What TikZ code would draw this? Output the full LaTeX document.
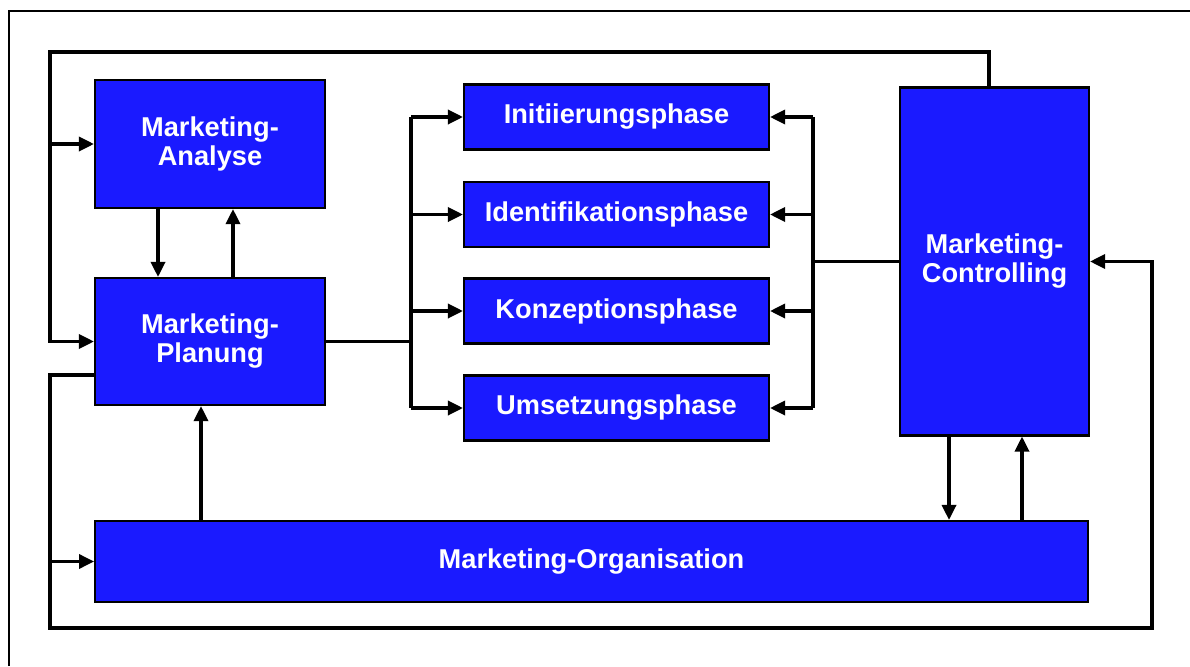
\documentclass[tikz,border=0pt]{standalone}
\usepackage{fontspec}
\setmainfont{Liberation Sans}
\usetikzlibrary{arrows.meta}
\definecolor{mblue}{HTML}{1A1AFF}
\begin{document}
\begin{tikzpicture}[x=0.02cm, y=-0.02cm,
    box/.style={draw=black, fill=mblue, line width=1.2pt, text=white, inner sep=0pt,
      align=center, font=\bfseries\fontsize{15.5}{16.5}\selectfont},
    phase/.style={box, minimum width=6.1cm, minimum height=1.3cm},
    line/.style={line width=1.9pt},
    arr/.style={line, -{Triangle[length=0.3cm, width=0.28cm]}}]
      \useasboundingbox (0,0) rectangle (1190,666);
      \draw[line width=1.2pt] (9,666) -- (9,11) -- (1190,11);
      \node[box, minimum width=4.6cm, minimum height=2.56cm] (ana) at (210,144) {Marketing-\\Analyse};
      \node[box, minimum width=4.6cm, minimum height=2.54cm] (plan) at (210,341.5) {Marketing-\\Planung};
      \node[box, minimum width=19.86cm, minimum height=1.62cm] (org) at (591.5,561.5) {Marketing-Organisation};
      \node[phase] (ini) at (616.5,117) {Initiierungsphase};
      \node[phase] (ident) at (616.5,214.5) {Identifikationsphase};
      \node[phase] (konz) at (616.5,311) {Konzeptionsphase};
      \node[phase] (ums) at (616.5,408) {Umsetzungsphase};
      \node[box, minimum width=3.78cm, minimum height=6.96cm] (ctrl) at (994.5,261.5) {Marketing-\\Controlling};
      \coordinate (topL) at (50,52);
      \coordinate (topR) at (989,52);
      \coordinate (midL) at (50,375);
      \coordinate (botL) at (50,628);
      \coordinate (botR) at (1152,628);
      \coordinate (busL) at (411,341);
      \coordinate (busR) at (813,266);
      % loops round the outside
      \draw[arr] (ctrl.north -| topR) -- (topR) -- (topL) |- (plan.west);
      \draw[arr] (topL |- ana.west) -- (ana.west);
      \draw[arr] (plan.west |- midL) -- (midL) -- (botL) -- (botR) |- (ctrl.east);
      \draw[arr] (botL |- org.west) -- (org.west);
      % analyse, planung, organisation
      \coordinate (c1) at ([xshift=-1.04cm]ana.south);
      \coordinate (c2) at ([xshift=0.46cm]ana.south);
      \coordinate (c3) at ([xshift=-0.18cm]plan.south);
      \draw[arr] (c1) -- (c1 |- plan.north);
      \draw[arr] (c2 |- plan.north) -- (c2);
      \draw[arr] (c3 |- org.north) -- (c3);
      % phases
      \draw[line] (plan.east) -- (plan.east -| busL);
      \draw[line] (busL |- ini.west) -- (busL |- ums.west);
      \draw[line] (ctrl.west) -- (ctrl.west -| busR);
      \draw[line] (busR |- ini.east) -- (busR |- ums.east);
      \foreach \n in {ini,ident,konz,ums} {
        \draw[arr] (busL |- \n.west) -- (\n.west);
        \draw[arr] (busR |- \n.east) -- (\n.east);
      }
      % controlling and organisation
      \coordinate (c4) at ([xshift=-0.91cm]ctrl.south);
      \coordinate (c5) at ([xshift=0.55cm]ctrl.south);
      \draw[arr] (c4) -- (c4 |- org.north);
      \draw[arr] (c5 |- org.north) -- (c5);
    \end{tikzpicture}
\end{document}
